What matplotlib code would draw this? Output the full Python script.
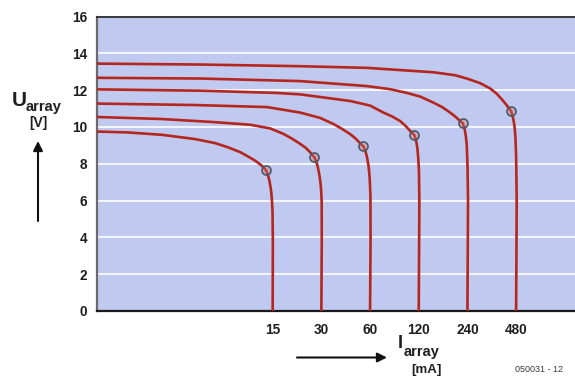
import matplotlib
matplotlib.use("Agg")
import matplotlib.pyplot as plt
from matplotlib.ticker import FixedLocator, NullLocator

plt.rcParams['font.family'] = ['Liberation Sans', 'DejaVu Sans']

# Short-circuit currents of the six array configurations (mA)
isc_ticks = [15, 30, 60, 120, 240, 480]
tick_labels = ["15", "30", "60", "120", "240", "480"]

# U/I characteristics (current in mA, voltage in V)
curve_15_i = [1.23, 1.92, 3.11, 4.98, 6.62, 7.96, 9.45, 10.58, 11.53, 12.29, 13.01,
              13.62, 13.97, 14.27, 14.58, 14.79, 14.96, 15.04, 15.0]
curve_15_v = [9.75, 9.70, 9.57, 9.34, 9.12, 8.89, 8.63, 8.39, 8.20, 8.03, 7.85,
              7.66, 7.43, 7.14, 6.70, 6.22, 5.46, 3.84, 0.0]

curve_30_i = [1.23, 3.10, 6.32, 10.89, 14.48, 17.50, 19.79, 22.19, 24.00, 25.58,
              27.20, 28.06, 28.67, 29.28, 29.79, 30.13, 30.17, 30.0]
curve_30_v = [10.54, 10.43, 10.27, 10.12, 9.92, 9.62, 9.36, 9.08, 8.87, 8.62,
              8.34, 8.05, 7.73, 7.30, 6.76, 6.0, 3.84, 0.0]

curve_60_i = [1.23, 4.98, 13.81, 22.19, 29.49, 35.64, 40.34, 45.20, 48.53, 51.38,
              54.62, 56.36, 57.58, 58.82, 59.66, 60.34, 60.43, 60.0]
curve_60_v = [11.27, 11.19, 11.08, 10.78, 10.49, 10.16, 9.89, 9.61, 9.39, 9.17,
              8.94, 8.65, 8.32, 7.84, 7.24, 6.27, 3.84, 0.0]

curve_120_i = [1.23, 5.35, 15.54, 22.19, 45.20, 60.08, 72.61, 82.18, 92.10, 98.88,
               103.93, 108.47, 112.87, 115.64, 117.64, 118.98, 120.34, 121.03,
               120.68, 120.0]
curve_120_v = [12.04, 11.97, 11.85, 11.77, 11.41, 11.16, 10.78, 10.57, 10.32, 10.08,
               9.87, 9.70, 9.55, 9.24, 8.87, 8.38, 7.62, 6.0, 3.84, 0.0]

curve_240_i = [1.23, 5.35, 22.19, 57.33, 79.86, 101.31, 122.41, 147.94, 167.43,
               187.63, 201.46, 211.76, 224.78, 230.62, 234.60, 237.62, 240.34,
               242.06, 241.37, 240.0]
curve_240_v = [12.67, 12.63, 12.49, 12.22, 12.05, 11.85, 11.65, 11.32, 11.08,
               10.78, 10.57, 10.40, 10.20, 9.89, 9.51, 9.05, 7.84, 6.0, 3.84, 0.0]

curve_480_i = [1.23, 5.35, 22.19, 57.33, 147.94, 201.46, 237.96, 287.58, 331.54,
               363.67, 391.63, 416.30, 447.02, 459.94, 469.87, 475.23, 480.0,
               484.12, 482.74, 480.0]
curve_480_v = [13.44, 13.39, 13.30, 13.21, 12.97, 12.81, 12.63, 12.38, 12.09,
               11.81, 11.50, 11.22, 10.86, 10.49, 10.0, 9.46, 8.43, 6.0, 3.84, 0.0]

curves = [
    (curve_15_i, curve_15_v),
    (curve_30_i, curve_30_v),
    (curve_60_i, curve_60_v),
    (curve_120_i, curve_120_v),
    (curve_240_i, curve_240_v),
    (curve_480_i, curve_480_v),
]

# Maximum power points on each characteristic
mpp_i = [13.62, 27.20, 54.62, 112.87, 224.78, 447.02]
mpp_v = [7.66, 8.34, 8.94, 9.55, 10.20, 10.86]

W, H = 575, 378
fig = plt.figure(figsize=(W / 100, H / 100), dpi=100)
fig.patch.set_facecolor("white")

left, right, top, bottom = 97, 575, 16.5, 311
ax = fig.add_axes([left / W, 1 - bottom / H, (right - left) / W, (bottom - top) / H])
ax.set_facecolor("#C0C9EF")

ax.set_xscale("log", base=2)
ax.set_xlim(1.23, 1110)
ax.set_ylim(0, 16)

for y in range(2, 16, 2):
    ax.axhline(y, color="white", lw=1.2, zorder=1)

curve_color = "#B5261E"
for ci, cv in curves:
    ax.plot(ci, cv, color=curve_color, lw=1.9, solid_capstyle="butt",
            solid_joinstyle="round", zorder=3)

ax.plot(mpp_i, mpp_v, linestyle="none", marker="o", markersize=6.5,
        markerfacecolor=(0.85, 0.45, 0.45, 0.35), markeredgecolor="#4A5866",
        markeredgewidth=1.2, zorder=4)

ax.xaxis.set_major_locator(FixedLocator(isc_ticks))
ax.xaxis.set_minor_locator(NullLocator())
ax.set_xticklabels(tick_labels)
ax.set_yticks(range(0, 17, 2))
ax.yaxis.set_minor_locator(NullLocator())
ax.tick_params(axis="both", length=0, labelsize=9.8, colors="#1e1e1e")
ax.tick_params(axis="x", pad=9)
ax.tick_params(axis="y", pad=7)
for lab in ax.get_xticklabels() + ax.get_yticklabels():
    lab.set_fontweight("bold")

ax.spines["right"].set_visible(False)
ax.spines["left"].set_color("#6b6b6b")
ax.spines["left"].set_linewidth(1.6)
ax.spines["bottom"].set_color("#1a1a1a")
ax.spines["bottom"].set_linewidth(1.6)
ax.spines["top"].set_color("#2a2a2a")
ax.spines["top"].set_linewidth(1.3)


def fx(px):
    return px / W


def fy(py):
    return 1 - py / H


# Y axis label with arrow
fig.text(fx(12), fy(100), "U", fontsize=15, fontweight="bold", color="#1e1e1e",
         ha="left", va="center")
fig.text(fx(26), fy(107), "array", fontsize=10.5, fontweight="bold", color="#1e1e1e",
         ha="left", va="center")
fig.text(fx(38.5), fy(123), "[V]", fontsize=10, fontweight="bold", color="#1e1e1e",
         ha="center", va="center")
ax.annotate("", xy=(fx(38), fy(141)), xytext=(fx(38), fy(221)),
            xycoords="figure fraction", textcoords="figure fraction",
            arrowprops=dict(arrowstyle="-|>", color="#111111", lw=1.5,
                            mutation_scale=14, shrinkA=0, shrinkB=0))

# X axis label with arrow
fig.text(fx(398), fy(344), "I", fontsize=13, fontweight="bold", color="#1e1e1e",
         ha="left", va="center")
fig.text(fx(404), fy(352), "array", fontsize=10.5, fontweight="bold", color="#1e1e1e",
         ha="left", va="center")
fig.text(fx(426), fy(370), "[mA]", fontsize=9.5, fontweight="bold", color="#1e1e1e",
         ha="center", va="center")
ax.annotate("", xy=(fx(387), fy(357.5)), xytext=(fx(297), fy(357.5)),
            xycoords="figure fraction", textcoords="figure fraction",
            arrowprops=dict(arrowstyle="-|>", color="#111111", lw=1.5,
                            mutation_scale=14, shrinkA=0, shrinkB=0))

fig.text(fx(539), fy(369), "050031 - 12", fontsize=6.5, color="#3a3a3a",
         ha="center", va="center")

fig.savefig("out.png", dpi=100, facecolor="white")
